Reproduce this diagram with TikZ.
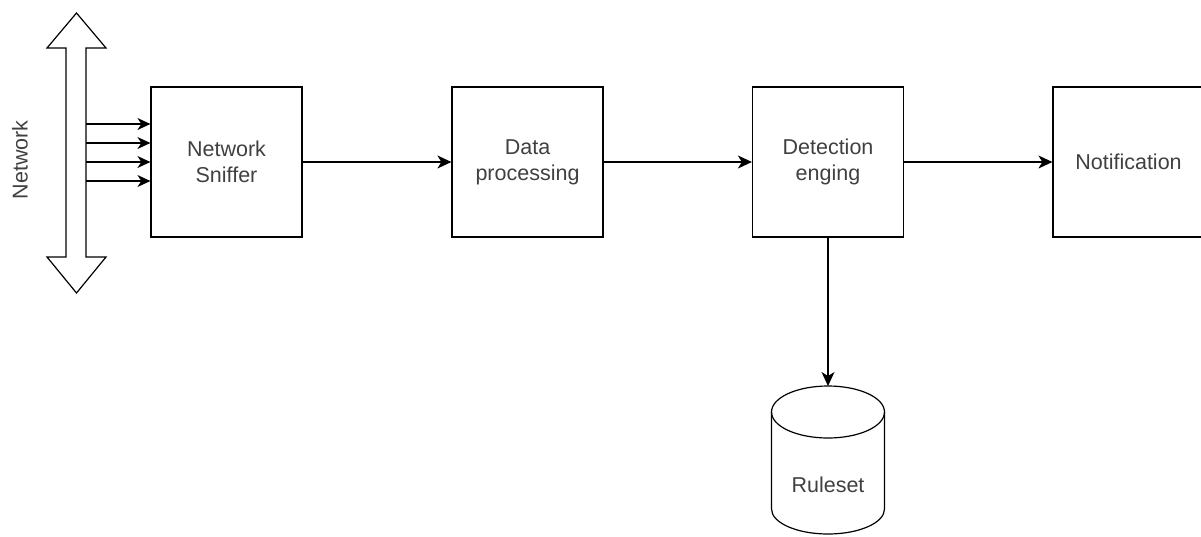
\documentclass[tikz,border=0pt]{standalone}
\usepackage{fontspec}
\setmainfont{Liberation Sans}
\usetikzlibrary{arrows.meta}
\begin{document}
\begin{tikzpicture}[x=1pt,y=-1pt,
  line width=1.2pt,
  every node/.style={font=\fontsize{21.5}{26}\selectfont, text=black!75},
  procbox/.style={draw=black, minimum width=151pt, minimum height=150pt, inner sep=0pt, align=center},
  flow/.style={-{Stealth[length=14pt,width=13pt,inset=4pt]}},
  tap/.style={-{Stealth[length=13pt,width=12pt,inset=4pt]}}]
\useasboundingbox (0,0) rectangle (1201,536);

% network bus: double-headed block arrow
\draw[line join=miter] (76.5,13) -- (106,48) -- (86,48) -- (86,257) -- (106,257)
  -- (76.5,293) -- (47,257) -- (66,257) -- (66,48) -- (47,48) -- cycle;
\node[rotate=90] (net) at (20,160) {Network};
\foreach \i/\yy in {1/124,2/143,3/162,4/181}
  \coordinate (tap\i) at (86,\yy);

% processing stages
\node[procbox] (sniffer) at (226.5,162) {Network\\Sniffer};
\node[procbox] (proc) at (527.5,162) {Data\\processing};
\node[procbox] (detect) at (828,162) {Detection\\enging};
\node[procbox] (notify) at (1128.5,162) {Notification};

% rule database cylinder
\draw (771.5,412) -- (771.5,509) arc[start angle=180,end angle=0,x radius=56.5,y radius=25]
  -- (884.5,412);
\draw (828,412) ellipse[x radius=56.5,y radius=26];
\coordinate (rtop) at (828,386);
\node (ruleset) at (828,485) {Ruleset};

% connectors
\foreach \i in {1,...,4}
  \draw[tap] (tap\i) -- (tap\i -| sniffer.west);
\draw[flow] (sniffer.east) -- (proc.west);
\draw[flow] (proc.east) -- (detect.west);
\draw[flow] (detect.east) -- (notify.west);
\draw[flow] (detect.south) -- (rtop);
\end{tikzpicture}
\end{document}
